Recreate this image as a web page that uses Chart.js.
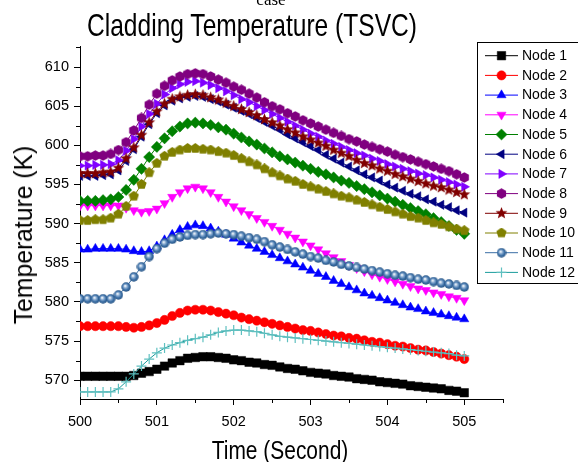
<!DOCTYPE html>
<html>
<head>
<meta charset="utf-8">
<script src="https://cdn.jsdelivr.net/npm/chart.js@4.4.1/dist/chart.umd.min.js"></script>
<style>
html, body { margin: 0; padding: 0; background: #fff; overflow: hidden; }
#wrap { position: relative; width: 578px; height: 462px; overflow: hidden; }
#chart { position: absolute; left: 0; top: 0; }
.txt { position: absolute; white-space: nowrap; line-height: 1; color: #000; font-family: "Liberation Sans", Arial, sans-serif; }
</style>
</head>
<body>
<div id="wrap">
  <canvas id="chart" width="578" height="462"></canvas>
  <div class="txt" style="font-family:'Liberation Serif',serif;font-size:17px;left:271px;top:-9px;transform:translateX(-50%)">case</div>
  <div class="txt" style="font-size:31.5px;left:252px;top:10px;transform:translateX(-50%) scaleX(0.78)">Cladding Temperature (TSVC)</div>
  <div class="txt" style="font-size:26.5px;left:280px;top:436.6px;transform:translateX(-50%) scaleX(0.79)">Time (Second)</div>
  <div class="txt" style="font-size:26px;left:22.5px;top:235px;transform:translate(-50%,-50%) rotate(-90deg) scaleX(0.95)">Temperature (K)</div>
</div>
<script>
// time points (s)
const times = [500.0, 500.1, 500.2, 500.3, 500.4, 500.5, 500.6, 500.7, 500.8, 500.9,
  501.0, 501.1, 501.2, 501.3, 501.4, 501.5, 501.6, 501.7, 501.8, 501.9,
  502.0, 502.1, 502.2, 502.3, 502.4, 502.5, 502.6, 502.7, 502.8, 502.9,
  503.0, 503.1, 503.2, 503.3, 503.4, 503.5, 503.6, 503.7, 503.8, 503.9,
  504.0, 504.1, 504.2, 504.3, 504.4, 504.5, 504.6, 504.7, 504.8, 504.9,
  505.0];

const nodeNames = ["Node 1", "Node 2", "Node 3", "Node 4", "Node 5", "Node 6",
  "Node 7", "Node 8", "Node 9", "Node 10", "Node 11", "Node 12"];

// temperatures (K)
const node1 = [570.5, 570.5, 570.5, 570.5, 570.5, 570.5, 570.5, 570.6, 570.9, 571.1,
  571.4, 571.8, 572.2, 572.5, 572.8, 572.9, 573.0, 573.0, 572.9, 572.8,
  572.6, 572.5, 572.3, 572.2, 572.0, 571.9, 571.7, 571.5, 571.4, 571.2,
  571.0, 570.9, 570.8, 570.6, 570.5, 570.4, 570.2, 570.1, 570.0, 569.8,
  569.7, 569.6, 569.5, 569.3, 569.2, 569.1, 569.0, 568.9, 568.7, 568.6,
  568.4];
const node2 = [576.9, 576.9, 576.9, 576.9, 576.9, 576.9, 576.8, 576.7, 576.8, 577.0,
  577.3, 577.7, 578.2, 578.6, 578.9, 579.0, 579.0, 578.9, 578.7, 578.5,
  578.3, 578.0, 577.8, 577.6, 577.4, 577.2, 577.0, 576.8, 576.6, 576.4,
  576.3, 576.1, 575.9, 575.7, 575.6, 575.4, 575.3, 575.1, 574.9, 574.8,
  574.6, 574.4, 574.3, 574.1, 573.9, 573.8, 573.6, 573.4, 573.2, 573.0,
  572.7];
const node3 = [586.7, 586.7, 586.8, 586.8, 586.8, 586.8, 586.7, 586.5, 586.4, 586.5,
  587.1, 587.9, 588.6, 589.2, 589.6, 589.8, 589.7, 589.4, 589.0, 588.6,
  588.1, 587.6, 587.2, 586.8, 586.4, 586.0, 585.6, 585.2, 584.8, 584.4,
  584.0, 583.6, 583.2, 582.7, 582.3, 581.9, 581.5, 581.1, 580.8, 580.5,
  580.2, 579.9, 579.6, 579.3, 579.1, 578.8, 578.6, 578.4, 578.2, 578.0,
  577.8];
const node4 = [592.3, 592.3, 592.3, 592.3, 592.3, 592.3, 592.0, 591.7, 591.5, 591.6,
  591.9, 592.6, 593.4, 594.0, 594.5, 594.7, 594.5, 594.0, 593.4, 592.8,
  592.2, 591.7, 591.2, 590.7, 590.2, 589.7, 589.2, 588.7, 588.2, 587.7,
  587.2, 586.7, 586.2, 585.7, 585.2, 584.7, 584.3, 583.9, 583.5, 583.2,
  582.9, 582.6, 582.3, 582.0, 581.7, 581.5, 581.2, 581.0, 580.7, 580.5,
  580.2];
const node5 = [592.9, 592.9, 592.9, 593.0, 593.1, 593.4, 594.3, 595.6, 597.0, 598.5,
  599.8, 600.9, 601.8, 602.4, 602.8, 602.9, 602.8, 602.6, 602.3, 602.0,
  601.5, 601.0, 600.5, 600.1, 599.6, 599.1, 598.6, 598.2, 597.8, 597.4,
  597.0, 596.6, 596.3, 595.9, 595.5, 595.2, 594.8, 594.4, 594.0, 593.6,
  593.2, 592.8, 592.4, 592.0, 591.6, 591.2, 590.7, 590.2, 589.7, 589.2,
  588.7];
const node6 = [596.1, 596.1, 596.1, 596.2, 596.3, 596.8, 598.0, 599.5, 601.1, 602.7,
  604.1, 605.1, 605.7, 606.0, 606.2, 606.3, 606.2, 605.9, 605.6, 605.2,
  604.8, 604.4, 604.0, 603.5, 603.0, 602.5, 602.0, 601.4, 600.9, 600.4,
  599.9, 599.4, 598.8, 598.3, 597.8, 597.3, 596.8, 596.3, 595.9, 595.5,
  595.0, 594.6, 594.2, 593.8, 593.5, 593.1, 592.8, 592.4, 592.1, 591.7,
  591.4];
const node7 = [597.4, 597.4, 597.5, 597.5, 597.6, 598.1, 599.3, 600.8, 602.4, 604.0,
  605.3, 606.5, 607.3, 607.8, 608.1, 608.2, 608.0, 607.7, 607.3, 606.9,
  606.4, 605.9, 605.5, 605.0, 604.5, 604.0, 603.5, 603.0, 602.5, 602.0,
  601.5, 601.1, 600.6, 600.2, 599.8, 599.4, 599.0, 598.7, 598.3, 598.0,
  597.6, 597.3, 597.0, 596.7, 596.4, 596.2, 595.9, 595.6, 595.3, 595.0,
  594.7];
const node8 = [598.6, 598.6, 598.7, 598.7, 598.9, 599.4, 600.4, 601.9, 603.5, 605.2,
  606.6, 607.6, 608.3, 608.8, 609.1, 609.2, 609.1, 608.8, 608.4, 608.0,
  607.5, 607.1, 606.6, 606.1, 605.5, 605.0, 604.6, 604.1, 603.7, 603.2,
  602.8, 602.4, 602.0, 601.6, 601.2, 600.8, 600.5, 600.1, 599.8, 599.5,
  599.2, 598.8, 598.5, 598.2, 597.9, 597.6, 597.3, 597.0, 596.7, 596.3,
  595.9];
const node9 = [596.4, 596.4, 596.4, 596.5, 596.6, 597.1, 598.3, 599.7, 601.3, 602.9,
  604.3, 605.3, 605.9, 606.2, 606.4, 606.5, 606.4, 606.1, 605.8, 605.4,
  605.0, 604.6, 604.2, 603.8, 603.3, 602.9, 602.5, 602.0, 601.6, 601.1,
  600.7, 600.3, 599.9, 599.4, 599.0, 598.6, 598.1, 597.7, 597.4, 597.0,
  596.7, 596.3, 596.0, 595.7, 595.4, 595.1, 594.8, 594.6, 594.3, 594.0,
  593.7];
const node10 = [590.4, 590.4, 590.5, 590.5, 590.7, 591.2, 592.2, 593.5, 595.0, 596.5,
  597.7, 598.6, 599.1, 599.4, 599.6, 599.6, 599.5, 599.4, 599.2, 599.0,
  598.7, 598.3, 597.9, 597.5, 597.0, 596.5, 596.1, 595.7, 595.4, 595.0,
  594.7, 594.4, 594.1, 593.8, 593.5, 593.3, 593.0, 592.7, 592.4, 592.1,
  591.8, 591.5, 591.2, 590.9, 590.7, 590.4, 590.1, 589.9, 589.6, 589.3,
  589.1];
const node11 = [580.4, 580.4, 580.4, 580.4, 580.4, 580.9, 581.9, 583.2, 584.5, 585.8,
  586.8, 587.5, 588.0, 588.3, 588.5, 588.6, 588.6, 588.7, 588.8, 588.7,
  588.6, 588.4, 588.2, 588.0, 587.7, 587.3, 587.0, 586.7, 586.4, 586.1,
  585.8, 585.6, 585.3, 585.1, 584.8, 584.6, 584.4, 584.2, 584.0, 583.8,
  583.6, 583.4, 583.3, 583.1, 582.9, 582.8, 582.6, 582.4, 582.3, 582.1,
  581.9];
const node12 = [568.5, 568.5, 568.5, 568.5, 568.5, 568.9, 569.8, 570.8, 571.8, 572.7,
  573.5, 574.1, 574.5, 574.8, 575.1, 575.3, 575.5, 575.8, 576.1, 576.3,
  576.4, 576.4, 576.3, 576.2, 576.0, 575.8, 575.6, 575.5, 575.4, 575.3,
  575.2, 575.1, 575.0, 574.9, 574.8, 574.7, 574.6, 574.5, 574.4, 574.3,
  574.2, 574.1, 574.0, 573.9, 573.8, 573.7, 573.6, 573.5, 573.4, 573.2,
  573.1];

const xTicks = [500, 501, 502, 503, 504, 505];
const yTicks = [570, 575, 580, 585, 590, 595, 600, 605, 610];
const xMinor = [500.5, 501.5, 502.5, 503.5, 504.5, 505.5];
const yMinor = [572.5, 577.5, 582.5, 587.5, 592.5, 597.5, 602.5, 607.5, 612.5];

// little canvas markers for shapes chart.js doesn't have
function polyMarker(size, color, n, r, inner) {
  const c = document.createElement("canvas");
  c.width = size; c.height = size;
  const g = c.getContext("2d");
  g.fillStyle = color;
  g.beginPath();
  const steps = inner ? n * 2 : n;
  for (let i = 0; i < steps; i++) {
    const rr = inner && i % 2 ? inner : r;
    const a = -Math.PI / 2 + i * Math.PI * 2 / steps;
    const px = size / 2 + rr * Math.cos(a), py = size / 2 + rr * Math.sin(a);
    i ? g.lineTo(px, py) : g.moveTo(px, py);
  }
  g.closePath();
  g.fill();
  return c;
}
function sphereMarker(size) {
  const c = document.createElement("canvas");
  c.width = size; c.height = size;
  const g = c.getContext("2d");
  const grd = g.createRadialGradient(size * 0.4, size * 0.38, 0.3, size / 2, size / 2, size / 2);
  grd.addColorStop(0, "#ffffff");
  grd.addColorStop(0.3, "#8fb0d4");
  grd.addColorStop(0.65, "#3a6ea5");
  grd.addColorStop(1, "#24507f");
  g.fillStyle = grd;
  g.beginPath();
  g.arc(size / 2, size / 2, size / 2 - 0.3, 0, Math.PI * 2);
  g.fill();
  return c;
}

const series = [node1, node2, node3, node4, node5, node6, node7, node8, node9, node10, node11, node12];
const nodeStyles = [
  { color: "#000000", point: "rect", radius: 6 },
  { color: "#ff0000", point: "circle", radius: 4.6 },
  { color: "#0000ff", point: "triangle", radius: 5.3 },
  { color: "#ff00ff", point: "triangle", radius: 5.3, rotation: 180 },
  { color: "#008000", point: "rectRot", radius: 5.6 },
  { color: "#000080", point: "triangle", radius: 5.3, rotation: -90 },
  { color: "#8000ff", point: "triangle", radius: 5.3, rotation: 90 },
  { color: "#800080", point: polyMarker(11, "#800080", 6, 5.3), radius: 5 },
  { color: "#800000", point: polyMarker(13, "#800000", 5, 6.3, 2.7), radius: 6 },
  { color: "#808000", point: polyMarker(11, "#808000", 5, 5.4), radius: 5 },
  { color: "#3a6ea5", point: sphereMarker(10), radius: 5 },
  { color: "#1a9c9c", point: "cross", radius: 5, pointColor: "#5fc0c0" }
];

const datasets = series.map((vals, i) => {
  const s = nodeStyles[i];
  return {
    label: nodeNames[i],
    data: times.map((t, k) => ({ x: t, y: vals[k] })),
    borderColor: s.color,
    backgroundColor: s.pointColor || s.color,
    pointBorderColor: s.pointColor || s.color,
    pointBackgroundColor: s.pointColor || s.color,
    borderWidth: 1,
    pointBorderWidth: s.point === "cross" ? 1.2 : 0.5,
    pointStyle: s.point,
    pointRadius: s.radius,
    pointRotation: s.rotation || 0,
    tension: 0,
    order: 12 - i
  };
});

// minor ticks and the boxed legend in the top right
const extras = {
  id: "extras",
  afterDraw(chart) {
    const ctx = chart.ctx;
    const xs = chart.scales.x, ys = chart.scales.y;
    const area = chart.chartArea;
    ctx.save();
    ctx.strokeStyle = "#000";
    ctx.lineWidth = 1;
    ctx.beginPath();
    xMinor.forEach(v => {
      const px = Math.round(xs.getPixelForValue(v)) + 0.5;
      ctx.moveTo(px, area.bottom);
      ctx.lineTo(px, area.bottom + 4);
    });
    yMinor.forEach(v => {
      const py = Math.round(ys.getPixelForValue(v)) + 0.5;
      ctx.moveTo(area.left, py);
      ctx.lineTo(area.left - 4, py);
    });
    ctx.stroke();

    // legend
    const bx = 477.5, by = 42.5, bw = 130, bh = 241;
    ctx.fillStyle = "#fff";
    ctx.fillRect(bx, by, bw, bh);
    ctx.strokeRect(bx, by, bw, bh);
    ctx.font = '14px "Liberation Sans", Arial, sans-serif';
    ctx.textBaseline = "middle";
    chart.data.datasets.forEach((ds, i) => {
      const y = 55.7 + 19.7 * i;
      ctx.strokeStyle = ds.borderColor;
      ctx.lineWidth = 1;
      ctx.beginPath();
      ctx.moveTo(485, y);
      ctx.lineTo(518, y);
      ctx.stroke();
      ctx.fillStyle = ds.pointBackgroundColor;
      ctx.strokeStyle = ds.pointBorderColor;
      ctx.lineWidth = ds.pointBorderWidth;
      Chart.helpers.drawPoint(ctx, {
        pointStyle: ds.pointStyle,
        rotation: ds.pointRotation,
        radius: ds.pointRadius,
        borderWidth: ds.pointBorderWidth
      }, 501.5, y);
      ctx.fillStyle = "#000";
      ctx.fillText(ds.label, 522, y + 0.5);
    });
    ctx.restore();
  }
};

const tickFont = { family: '"Liberation Sans", Arial, sans-serif', size: 14.5 };

new Chart(document.getElementById("chart"), {
  type: "line",
  data: { datasets: datasets },
  plugins: [extras],
  options: {
    responsive: false,
    animation: false,
    events: [],
    layout: { padding: { top: 46.7, right: 75.3, left: 0, bottom: 0 } },
    plugins: { legend: { display: false }, tooltip: { enabled: false }, title: { display: false } },
    scales: {
      x: {
        type: "linear",
        min: 500,
        max: 505.5,
        afterBuildTicks: s => { s.ticks = xTicks.map(v => ({ value: v })); },
        afterFit: s => { s.height = 63; },
        border: { color: "#000", width: 1 },
        grid: { drawOnChartArea: false, drawTicks: true, tickLength: 6, tickColor: "#000" },
        ticks: { font: tickFont, color: "#000", padding: 8, maxRotation: 0, autoSkip: false,
          callback: v => String(v) }
      },
      y: {
        min: 567.6,
        max: 612.6,
        afterBuildTicks: s => { s.ticks = yTicks.map(v => ({ value: v })); },
        afterFit: s => { s.width = 80; },
        border: { color: "#000", width: 1 },
        grid: { drawOnChartArea: false, drawTicks: true, tickLength: 6, tickColor: "#000" },
        ticks: { font: tickFont, color: "#000", padding: 5, autoSkip: false,
          callback: v => String(v) }
      }
    }
  }
});
</script>
</body>
</html>
